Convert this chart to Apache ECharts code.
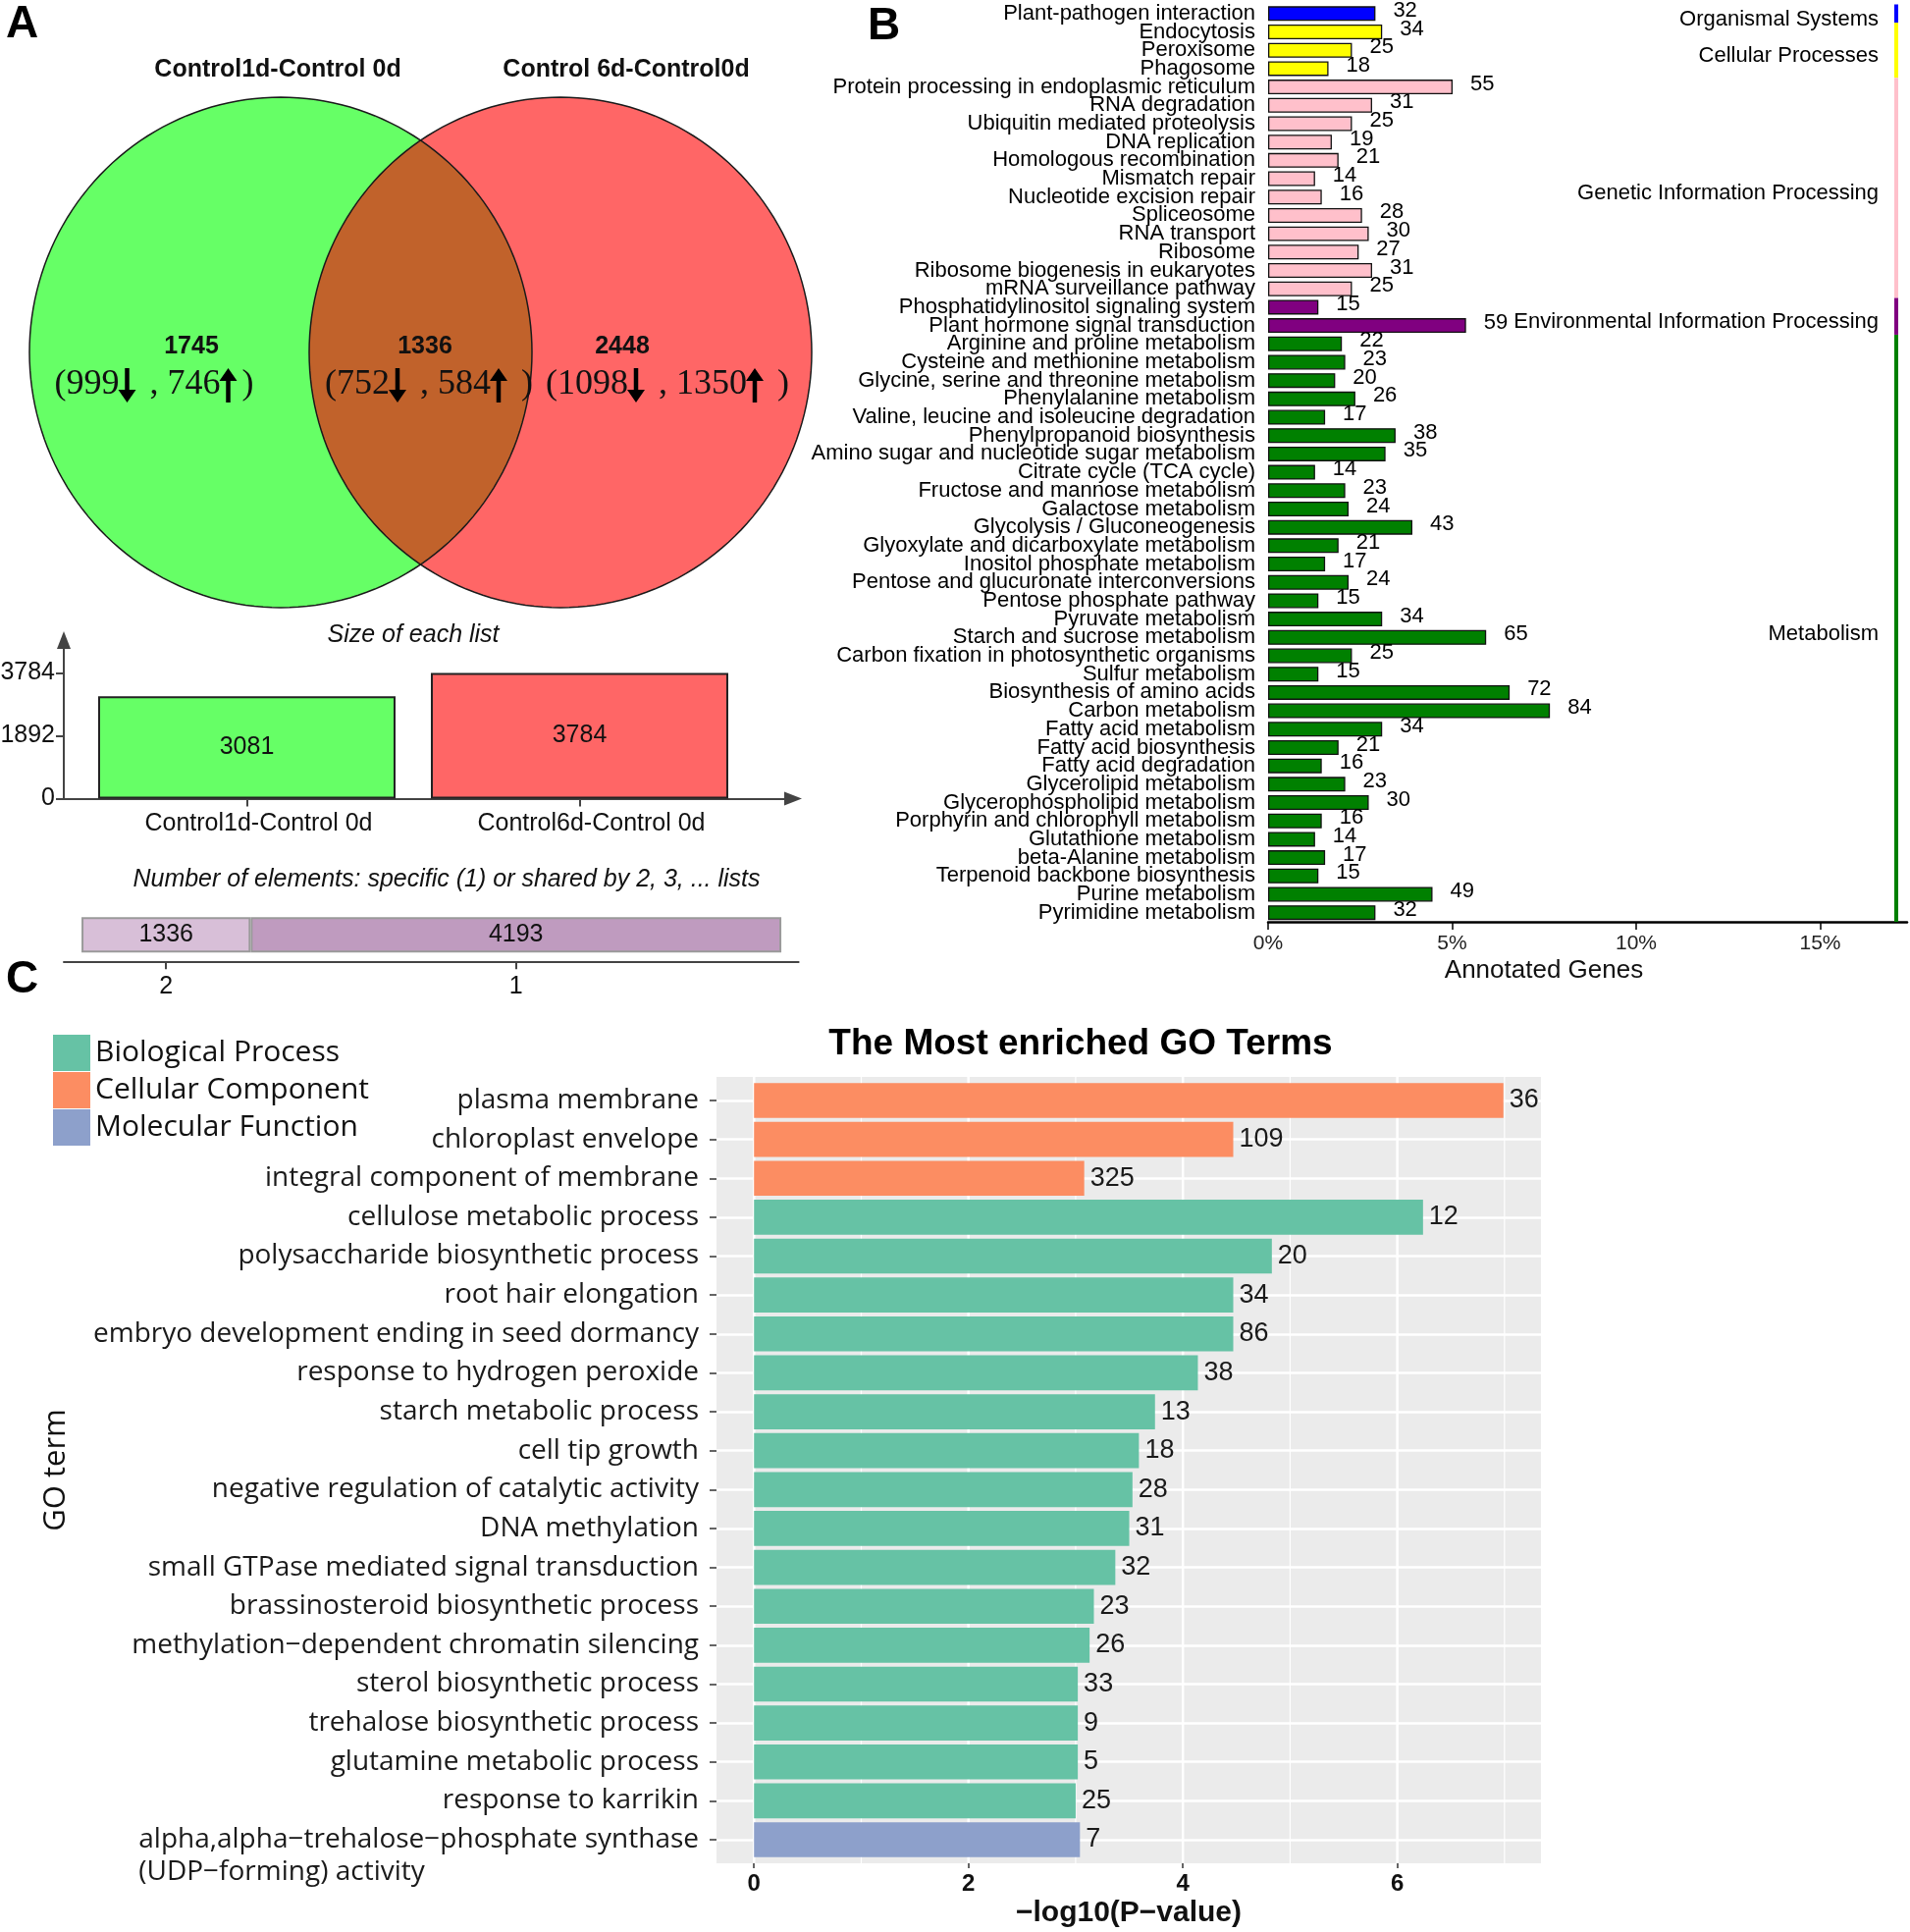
<!DOCTYPE html>
<html>
<head>
<meta charset="utf-8">
<script src="https://cdn.jsdelivr.net/npm/echarts@6/dist/echarts.min.js"></script>
<style>html,body{margin:0;padding:0;background:#fff}#main{width:1946px;height:1968px}</style>
</head>
<body>
<div id="main"></div>
<script>
// ================= DATA =================
// Panel A: Venn
const vennSetNames = ['Control1d-Control 0d', 'Control 6d-Control0d'];
const vennRegionTotals = [1745, 1336, 2448];
const vennRegionDown = [999, 752, 1098];
const vennRegionUp = [746, 584, 1350];
// Panel A: size of each list
const listNames = ['Control1d-Control 0d', 'Control6d-Control 0d'];
const listSizes = [3081, 3784];
const listTicks = [0, 1892, 3784];
// Panel A: specific / shared
const sharedLevels = ['2', '1'];
const sharedCounts = [1336, 4193];
// Panel B: KEGG
const keggPathways = [
  'Plant-pathogen interaction',
  'Endocytosis', 'Peroxisome', 'Phagosome',
  'Protein processing in endoplasmic reticulum', 'RNA degradation', 'Ubiquitin mediated proteolysis',
  'DNA replication', 'Homologous recombination', 'Mismatch repair', 'Nucleotide excision repair',
  'Spliceosome', 'RNA transport', 'Ribosome', 'Ribosome biogenesis in eukaryotes', 'mRNA surveillance pathway',
  'Phosphatidylinositol signaling system', 'Plant hormone signal transduction',
  'Arginine and proline metabolism', 'Cysteine and methionine metabolism', 'Glycine, serine and threonine metabolism',
  'Phenylalanine metabolism', 'Valine, leucine and isoleucine degradation', 'Phenylpropanoid biosynthesis',
  'Amino sugar and nucleotide sugar metabolism', 'Citrate cycle (TCA cycle)', 'Fructose and mannose metabolism',
  'Galactose metabolism', 'Glycolysis / Gluconeogenesis', 'Glyoxylate and dicarboxylate metabolism',
  'Inositol phosphate metabolism', 'Pentose and glucuronate interconversions', 'Pentose phosphate pathway',
  'Pyruvate metabolism', 'Starch and sucrose metabolism', 'Carbon fixation in photosynthetic organisms',
  'Sulfur metabolism', 'Biosynthesis of amino acids', 'Carbon metabolism', 'Fatty acid metabolism',
  'Fatty acid biosynthesis', 'Fatty acid degradation', 'Glycerolipid metabolism', 'Glycerophospholipid metabolism',
  'Porphyrin and chlorophyll metabolism', 'Glutathione metabolism', 'beta-Alanine metabolism',
  'Terpenoid backbone biosynthesis', 'Purine metabolism', 'Pyrimidine metabolism'
];
const keggCounts = [32, 34, 25, 18, 55, 31, 25, 19, 21, 14, 16, 28, 30, 27, 31, 25, 15, 59,
  22, 23, 20, 26, 17, 38, 35, 14, 23, 24, 43, 21, 17, 24, 15, 34, 65, 25, 15, 72, 84, 34,
  21, 16, 23, 30, 16, 14, 17, 15, 49, 32];
const keggClasses = ['Organismal Systems', 'Cellular Processes', 'Genetic Information Processing',
  'Environmental Information Processing', 'Metabolism'];
const keggClassSizes = [1, 3, 12, 2, 32];
const keggTotalAnnotated = 1097;   // estimated from bar lengths vs % axis
const keggTickPercents = [0, 5, 10, 15];
// Panel C: GO
const goTerms = [
  'plasma membrane', 'chloroplast envelope', 'integral component of membrane',
  'cellulose metabolic process', 'polysaccharide biosynthetic process', 'root hair elongation',
  'embryo development ending in seed dormancy', 'response to hydrogen peroxide', 'starch metabolic process',
  'cell tip growth', 'negative regulation of catalytic activity', 'DNA methylation',
  'small GTPase mediated signal transduction', 'brassinosteroid biosynthetic process',
  'methylation\u2212dependent chromatin silencing', 'sterol biosynthetic process',
  'trehalose biosynthetic process', 'glutamine metabolic process', 'response to karrikin',
  'alpha,alpha\u2212trehalose\u2212phosphate synthase\n(UDP\u2212forming) activity'
];
const goLog10P = [6.99, 4.47, 3.08, 6.24, 4.83, 4.47, 4.47, 4.14, 3.74, 3.59, 3.53, 3.50, 3.37, 3.17, 3.13, 3.02, 3.02, 3.02, 3.00, 3.04];
const goCounts = [36, 109, 325, 12, 20, 34, 86, 38, 13, 18, 28, 31, 32, 23, 26, 33, 9, 5, 25, 7];
const goOntology = ['Cellular Component', 'Cellular Component', 'Cellular Component',
  'Biological Process', 'Biological Process', 'Biological Process', 'Biological Process', 'Biological Process',
  'Biological Process', 'Biological Process', 'Biological Process', 'Biological Process', 'Biological Process',
  'Biological Process', 'Biological Process', 'Biological Process', 'Biological Process', 'Biological Process',
  'Biological Process', 'Molecular Function'];
const goCategories = ['Biological Process', 'Cellular Component', 'Molecular Function'];
const goTicks = [0, 2, 4, 6];

// ================= STYLE / LAYOUT =================
const SANS = 'Liberation Sans';
const SERIF = 'Liberation Serif';
const GOF = 'Open Sans';
const GO_LABEL_SIZE = 28, GO_LABEL_MARGIN = 18, GO_LINE_H = 33;
const VENN_COLORS = ['#66FF66', '#FF6666'];
const VENN_LENS = '#C1622B';
const VENN = { cx: [286, 571], cy: 359, rx: 256, ry: 260, titleX: [283, 638], titleY: 71,
  countX: [195, 433, 634], countY: 353, splitX: [157, 437, 680], splitY: 392 };
const ARROW = { advance: 22, center: 8, shaft: 4.5, head: 18, headLen: 13, top: -17, bottom: 18 };
const LIST_COLORS = ['#66FF66', '#FF6666'];
const SHARED_COLORS = ['#D8BFD8', '#BF9BBF'];
const KEGG_COLORS = ['#0000FF', '#FFFF00', '#FFC0CB', '#800080', '#008000'];
const GO_COLORS = { 'Biological Process': '#66C2A5', 'Cellular Component': '#FC8D62', 'Molecular Function': '#8DA0CB' };

// derived
const keggClassOf = [];
const keggClassRanges = [];
keggClassSizes.forEach((n, c) => {
  keggClassRanges.push([keggClassOf.length, keggClassOf.length + n - 1]);
  for (let k = 0; k < n; k++) keggClassOf.push(c);
});
const keggTickValues = keggTickPercents.map(p => p / 100 * keggTotalAnnotated);
const sharedCenters = sharedCounts.map((c, i) => sharedCounts.slice(0, i).reduce((a, b) => a + b, 0) + c / 2);

const measureCtx = document.createElement('canvas').getContext('2d');
measureCtx.font = GO_LABEL_SIZE + 'px "Open Sans"';
const goLabelWidth = t => measureCtx.measureText(t.split('\n')[0]).width;
const serifCtx = document.createElement('canvas').getContext('2d');
serifCtx.font = '36px "Liberation Serif"';

function ellipseArc(api, cx, cy, rx, ry, a0, a1, n) {
  const pts = [];
  for (let i = 0; i <= n; i++) {
    const t = a0 + (a1 - a0) * i / n;
    pts.push(api.coord([cx + rx * Math.cos(t), cy + ry * Math.sin(t)]));
  }
  return pts;
}
function arrowPoly(ax, y, up) {
  const s = ARROW.shaft / 2, h = ARROW.head / 2, T = y + ARROW.top, B = y + ARROW.bottom;
  if (!up) {
    const hb = B - ARROW.headLen;
    return [[ax - s, T], [ax + s, T], [ax + s, hb], [ax + h, hb], [ax, B], [ax - h, hb], [ax - s, hb]];
  }
  const ht = T + ARROW.headLen;
  return [[ax, T], [ax + h, ht], [ax + s, ht], [ax + s, B], [ax - s, B], [ax - s, ht], [ax - h, ht]];
}

const chart = echarts.init(document.getElementById('main'), null, { renderer: 'canvas', width: 1946, height: 1968 });

const hiddenAxis = (gi, min, max, extra) => Object.assign({ gridIndex: gi, type: 'value', min, max, show: false }, extra || {});
const G = (o) => Object.assign({ outerBoundsMode: 'none', containLabel: false }, o);

const option = {
  backgroundColor: '#fff',
  animation: false,
  textStyle: { fontFamily: SANS },
  grid: [
    G({ left: 0, top: 0, width: 830, height: 640 }),                 // 0 venn
    G({ left: 65, top: 652, width: 743, height: 161.5 }),             // 1 size of each list
    G({ left: 65, top: 925, width: 748.6, height: 54.3 }),            // 2 shared
    G({ left: 1292, top: 4.5, width: 651, height: 934.5 }),           // 3 KEGG
    G({ left: 730, top: 1097, width: 840, height: 801, show: true, backgroundColor: '#EBEBEB', borderWidth: 0 }), // 4 GO bg
    G({ left: 730, top: 1121, width: 840, height: 753 })              // 5 GO bars
  ],
  legend: {
    data: goCategories, orient: 'vertical', left: 54, top: 1054, itemWidth: 38, itemHeight: 37, itemGap: 1,
    icon: 'rect', padding: 0, selectedMode: false,
    textStyle: { fontSize: 30, fontFamily: GOF, color: '#111' }
  },
  xAxis: [
    hiddenAxis(0, 0, 830),
    { gridIndex: 1, type: 'value', min: 0.4499, max: 2.6416,
      axisLine: { show: true, onZero: false, symbol: ['none', 'triangle'], symbolSize: [14, 18], lineStyle: { color: '#444', width: 2 } },
      axisTick: { show: true, customValues: [1, 2], length: 8, lineStyle: { color: '#444', width: 2 } },
      axisLabel: { customValues: [1, 2], formatter: v => listNames[Math.round(v) - 1], fontSize: 25, color: '#111', margin: 13, fontFamily: SANS, padding: [0, 0, 0, 24] },
      splitLine: { show: false } },
    { gridIndex: 2, type: 'value', min: -140, max: 5665,
      axisLine: { show: true, lineStyle: { color: '#444', width: 2 } },
      axisTick: { show: true, customValues: sharedCenters, length: 8, lineStyle: { color: '#444', width: 2 } },
      axisLabel: { customValues: sharedCenters, formatter: v => sharedLevels[sharedCenters.findIndex(c => Math.abs(c - v) < 1)], fontSize: 25, color: '#111', margin: 13, fontFamily: SANS },
      splitLine: { show: false } },
    { gridIndex: 3, type: 'value', min: 0, max: 0.1736 * keggTotalAnnotated,
      axisLine: { show: true, lineStyle: { color: '#000', width: 2.5 } },
      axisTick: { show: true, customValues: keggTickValues, length: 8, lineStyle: { color: '#000', width: 1.5 } },
      axisLabel: { customValues: keggTickValues, formatter: v => Math.round(v / keggTotalAnnotated * 100) + '%', fontSize: 21, color: '#222', margin: 12, fontFamily: SANS },
      splitLine: { show: false } },
    { gridIndex: 4, type: 'value', min: -0.35, max: 7.34,
      axisLine: { show: false },
      axisTick: { show: true, customValues: goTicks, length: 5, lineStyle: { color: '#333', width: 1.5 } },
      axisLabel: { customValues: goTicks, fontSize: 24, fontWeight: 'bold', color: '#111', margin: 9, fontFamily: SANS },
      splitLine: { show: false },
      name: '\u2212log10(P\u2212value)', nameLocation: 'middle', nameGap: 36,
      nameTextStyle: { fontSize: 30, fontWeight: 'bold', color: '#111', fontFamily: SANS } },
    hiddenAxis(5, -0.35, 7.34)
  ],
  yAxis: [
    hiddenAxis(0, 0, 640, { inverse: true }),
    { gridIndex: 1, type: 'value', min: 0, max: 4774,
      axisLine: { show: true, onZero: false, symbol: ['none', 'triangle'], symbolSize: [14, 18], lineStyle: { color: '#444', width: 2 } },
      axisTick: { show: true, customValues: listTicks, length: 8, lineStyle: { color: '#444', width: 2 } },
      axisLabel: { customValues: listTicks, formatter: v => String(v), fontSize: 25, color: '#111', margin: 9, fontFamily: SANS },
      splitLine: { show: false } },
    { gridIndex: 2, type: 'category', data: ['all'], show: false },
    { gridIndex: 3, type: 'category', data: keggPathways, inverse: true,
      axisLine: { show: false }, axisTick: { show: false },
      axisLabel: { interval: 0, fontSize: 22, color: '#000', margin: 13, fontFamily: SANS } },
    hiddenAxis(4, 0, 1),
    { gridIndex: 5, type: 'value', min: 0, max: goTerms.length - 1, interval: 1, inverse: true,
      axisLine: { show: false, onZero: false },
      axisTick: { show: true, length: 7, lineStyle: { color: '#333', width: 1.5 } },
      axisLabel: {
        fontSize: GO_LABEL_SIZE, fontFamily: GOF, color: '#1a1a1a', margin: GO_LABEL_MARGIN,
        showMinLabel: true, showMaxLabel: true,
        formatter: v => (goTerms[Math.round(v)] || '').split('\n')[0]
      },
      splitLine: { show: true, lineStyle: { color: '#fff', width: 2.5 } },
      name: 'GO term', nameLocation: 'middle', nameRotate: 90, nameGap: 657,
      nameTextStyle: { fontSize: 31, color: '#111', fontFamily: GOF } }
  ],
  graphic: [
    { type: 'text', left: 6, top: 2, style: { text: 'A', fontSize: 46, fontWeight: 'bold', fontFamily: SANS, fill: '#000' } },
    { type: 'text', left: 884, top: 4, style: { text: 'B', fontSize: 46, fontWeight: 'bold', fontFamily: SANS, fill: '#000' } },
    { type: 'text', left: 6, top: 975, style: { text: 'C', fontSize: 46, fontWeight: 'bold', fontFamily: SANS, fill: '#000' } },
    { type: 'text', x: 421, y: 647, style: { text: 'Size of each list', fontSize: 25, fontStyle: 'italic', fontFamily: SANS, fill: '#111', align: 'center', verticalAlign: 'middle' } },
    { type: 'text', x: 455, y: 896, style: { text: 'Number of elements: specific (1) or shared by 2, 3, ... lists', fontSize: 25, fontStyle: 'italic', fontFamily: SANS, fill: '#111', align: 'center', verticalAlign: 'middle' } },
    { type: 'text', x: 1573, y: 989, style: { text: 'Annotated Genes', fontSize: 26, fontFamily: SANS, fill: '#111', align: 'center', verticalAlign: 'middle' } },
    { type: 'text', x: 1101, y: 1064, style: { text: 'The Most enriched GO Terms', fontSize: 37, fontWeight: 'bold', fontFamily: SANS, fill: '#000', align: 'center', verticalAlign: 'middle' } }
  ],
  series: [
    // ---- Venn fills + set titles
    { type: 'custom', name: 'vennSets', xAxisIndex: 0, yAxisIndex: 0, z: 1, silent: true,
      data: vennSetNames.map((n, i) => [i]),
      renderItem(params, api) {
        const i = params.dataIndex;
        const pts = ellipseArc(api, VENN.cx[i], VENN.cy, VENN.rx, VENN.ry, 0, 2 * Math.PI, 180);
        const t = api.coord([VENN.titleX[i], VENN.titleY]);
        return { type: 'group', children: [
          { type: 'polygon', shape: { points: pts }, style: { fill: VENN_COLORS[i] } },
          { type: 'text', x: t[0], y: t[1], style: { text: vennSetNames[i], fontSize: 25, fontWeight: 'bold', fontFamily: SANS, fill: '#111', align: 'center', verticalAlign: 'middle' } }
        ] };
      } },
    // ---- Venn lens + outlines
    { type: 'custom', name: 'vennLens', xAxisIndex: 0, yAxisIndex: 0, z: 2, silent: true,
      data: [[0]],
      renderItem(params, api) {
        const t0 = Math.acos((VENN.cx[1] - VENN.cx[0]) / 2 / VENN.rx);
        const right = ellipseArc(api, VENN.cx[0], VENN.cy, VENN.rx, VENN.ry, -t0, t0, 90);
        const left = ellipseArc(api, VENN.cx[1], VENN.cy, VENN.rx, VENN.ry, Math.PI - t0, Math.PI + t0, 90);
        const o0 = ellipseArc(api, VENN.cx[0], VENN.cy, VENN.rx, VENN.ry, 0, 2 * Math.PI, 180);
        const o1 = ellipseArc(api, VENN.cx[1], VENN.cy, VENN.rx, VENN.ry, 0, 2 * Math.PI, 180);
        return { type: 'group', children: [
          { type: 'polygon', shape: { points: right.concat(left) }, style: { fill: VENN_LENS } },
          { type: 'polygon', shape: { points: o0 }, style: { fill: 'none', stroke: '#1a1a1a', lineWidth: 1.5 } },
          { type: 'polygon', shape: { points: o1 }, style: { fill: 'none', stroke: '#1a1a1a', lineWidth: 1.5 } }
        ] };
      } },
    // ---- Venn region labels: total, then (down-arrow , up-arrow)
    { type: 'custom', name: 'vennRegions', xAxisIndex: 0, yAxisIndex: 0, z: 3, silent: true,
      data: vennRegionTotals.map((v, i) => [i]),
      renderItem(params, api) {
        const i = params.dataIndex;
        const c = api.coord([VENN.countX[i], VENN.countY]);
        const s = api.coord([VENN.splitX[i], VENN.splitY]);
        const segs = ['(' + vennRegionDown[i], ' , ' + vennRegionUp[i], i > 0 ? ' )' : ')'];
        const ws = segs.map(t => serifCtx.measureText(t).width);
        const total = ws[0] + ws[1] + ws[2] + 2 * ARROW.advance;
        let x = s[0] - total / 2;
        const children = [
          { type: 'text', x: c[0], y: c[1], style: { text: String(vennRegionTotals[i]), fontSize: 25, fontWeight: 'bold', fontFamily: SANS, fill: '#111', align: 'center', verticalAlign: 'middle' } }
        ];
        segs.forEach((t, k) => {
          children.push({ type: 'text', x: x, y: s[1], style: { text: t, fontSize: 36, fontFamily: SERIF, fill: '#111', align: 'left', verticalAlign: 'middle' } });
          x += ws[k];
          if (k < 2) {
            children.push({ type: 'polygon', shape: { points: arrowPoly(x + ARROW.center, s[1], k === 1) }, style: { fill: '#000' } });
            x += ARROW.advance;
          }
        });
        return { type: 'group', children };
      } },
    // ---- size of each list
    { type: 'bar', name: 'listSize', xAxisIndex: 1, yAxisIndex: 1, barWidth: 303,
      data: listSizes.map((v, i) => ({ value: [i + 1, v], itemStyle: { color: LIST_COLORS[i] } })),
      itemStyle: { borderColor: '#222', borderWidth: 2 },
      label: { show: true, position: 'inside', formatter: p => p.value[1], fontSize: 25, color: '#111', fontFamily: SANS } },
    // ---- shared / specific
    ...sharedCounts.map((c, i) => ({
      type: 'bar', name: 'shared' + sharedLevels[i], xAxisIndex: 2, yAxisIndex: 2, stack: 'shared', barWidth: 36,
      data: [c], itemStyle: { color: SHARED_COLORS[i], borderColor: '#9a9a9a', borderWidth: 2 },
      label: { show: true, position: 'inside', fontSize: 25, color: '#111', fontFamily: SANS }
    })),
    // ---- KEGG bars
    { type: 'bar', name: 'kegg', xAxisIndex: 3, yAxisIndex: 3, barWidth: 15,
      data: keggCounts.map((v, i) => ({ value: v, itemStyle: { color: KEGG_COLORS[keggClassOf[i]] } })),
      itemStyle: { borderColor: '#111', borderWidth: 1.3 },
      label: { show: true, position: 'right', distance: 18, offset: [0, -3], fontSize: 22, color: '#000', fontFamily: SANS } },
    // ---- KEGG class strips + labels
    { type: 'custom', name: 'keggClass', xAxisIndex: 3, yAxisIndex: 3, z: 3, silent: true,
      data: keggClassRanges,
      renderItem(params, api) {
        const s = api.value(0), e = api.value(1);
        const cs = params.coordSys;
        const band = api.size([0, 1])[1];
        const y0 = api.coord([0, s])[1] - band / 2;
        const y1 = api.coord([0, e])[1] + band / 2;
        const xr = cs.x + cs.width;
        return { type: 'group', children: [
          { type: 'rect', shape: { x: xr - 13, y: y0, width: 4, height: y1 - y0 }, style: { fill: KEGG_COLORS[params.dataIndex] } },
          { type: 'text', x: xr - 29, y: (y0 + y1) / 2 + 6, style: { text: keggClasses[params.dataIndex], fontSize: 22, fontFamily: SANS, fill: '#000', align: 'right', verticalAlign: 'middle' } }
        ] };
      } },
    // ---- GO background vertical grid lines
    { type: 'custom', name: 'goGrid', xAxisIndex: 4, yAxisIndex: 4, z: 1, silent: true,
      data: goTicks.map(t => [t, 1]).concat(goTicks.map(t => [t + 1, 0])),
      renderItem(params, api) {
        const a = api.coord([api.value(0), 0]);
        const b = api.coord([api.value(0), 1]);
        return { type: 'line', shape: { x1: a[0], y1: a[1], x2: b[0], y2: b[1] },
          style: { stroke: '#fff', lineWidth: api.value(1) ? 2.5 : 1.2 } };
      } },
    // ---- GO bars by ontology
    ...goCategories.map(cat => ({
      type: 'custom', name: cat, xAxisIndex: 5, yAxisIndex: 5, z: 3,
      itemStyle: { color: GO_COLORS[cat] },
      encode: { x: 0, y: 1 },
      data: goLog10P.map((v, i) => [v, i, goCounts[i], goOntology[i]]).filter(d => d[3] === cat).map(d => [d[0], d[1], d[2]]),
      renderItem(params, api) {
        const v = api.value(0), idx = api.value(1), cnt = api.value(2);
        const p0 = api.coord([0, idx]);
        const p1 = api.coord([v, idx]);
        const h = Math.abs(api.size([0, 1])[1]) * 0.9;
        const children = [
          { type: 'rect', shape: { x: p0[0], y: p0[1] - h / 2, width: p1[0] - p0[0], height: h }, style: { fill: api.visual('color') } },
          { type: 'text', x: p1[0] + 6, y: p1[1], style: { text: String(cnt), fontSize: 27, fontFamily: SANS, fill: '#1a1a1a', align: 'left', verticalAlign: 'middle' } }
        ];
        // continuation lines of a wrapped axis label, left-aligned under its first line
        const term = goTerms[idx];
        const lines = term.split('\n');
        if (lines.length > 1) {
          const x0 = params.coordSys.x - GO_LABEL_MARGIN - goLabelWidth(term);
          lines.slice(1).forEach((ln, k) => {
            children.push({ type: 'text', x: x0, y: p1[1] + GO_LINE_H * (k + 1), style: { text: ln, fontSize: GO_LABEL_SIZE, fontFamily: GOF, fill: '#1a1a1a', align: 'left', verticalAlign: 'middle' } });
          });
        }
        return { type: 'group', children };
      }
    }))
  ]
};
chart.setOption(option);
</script>
</body>
</html>
